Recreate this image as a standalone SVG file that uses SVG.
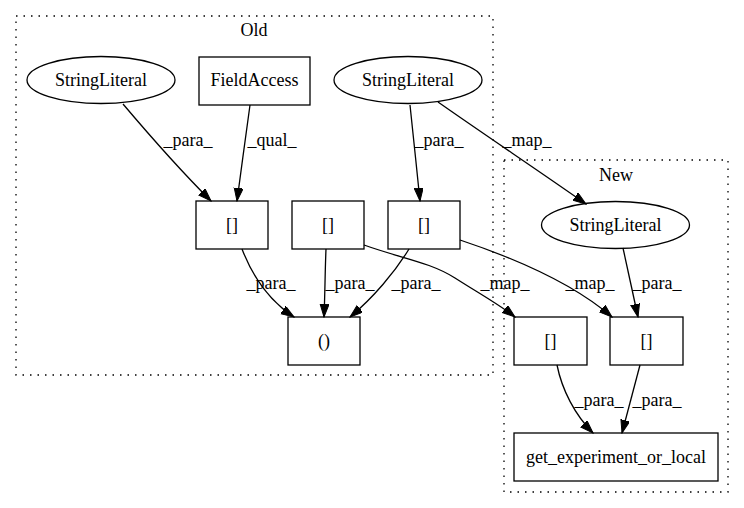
<svg xmlns="http://www.w3.org/2000/svg" width="744" height="508" viewBox="0 0 744 508">
<style>
text{font-family:"Liberation Serif","Times New Roman",serif;font-size:18px;fill:#000}
.n{fill:none;stroke:#000;stroke-width:1.3}
.c{fill:none;stroke:#000;stroke-width:1.3;stroke-dasharray:1.5,6}
.e{fill:none;stroke:#000;stroke-width:1.3;marker-end:url(#a)}
</style>
<defs>
<marker id="a" markerUnits="userSpaceOnUse" markerWidth="14" markerHeight="10" refX="13" refY="4.5" orient="auto">
<path d="M0,0 L13,4.5 L0,9 z" fill="#000" stroke="#000" stroke-width="1"/>
</marker>
</defs>
<rect width="744" height="508" fill="#fff"/>
<g id="cluster_old">
<rect class="c" x="16" y="16" width="477" height="359"/>
<text x="254" y="36" text-anchor="middle">Old</text>
</g>
<g id="cluster_new">
<rect class="c" x="504" y="160" width="224" height="332"/>
<text x="616" y="181" text-anchor="middle">New</text>
</g>
<g id="edges">
<path class="e" d="M123,104 C145,130 182,172 211,201"/>
<text x="188" y="146" text-anchor="middle">_para_</text>
<path class="e" d="M250,105 C246,135 241,170 237,201"/>
<text x="272" y="146" text-anchor="middle">_qual_</text>
<path class="e" d="M410,105 C413,135 417,170 420,201"/>
<text x="439" y="146" text-anchor="middle">_para_</text>
<path class="e" d="M438,102 C485,135 545,175 586,204"/>
<text x="527" y="146" text-anchor="middle">_map_</text>
<path class="e" d="M242,249 C252,275 268,300 294,317"/>
<text x="271" y="289" text-anchor="middle">_para_</text>
<path class="e" d="M326,249 C325,272 325,295 324,317"/>
<text x="350" y="289" text-anchor="middle">_para_</text>
<path class="e" d="M409,249 C395,272 373,298 350,317"/>
<text x="416" y="289" text-anchor="middle">_para_</text>
<path class="e" d="M364,245 C400,258 430,262 455,278 C480,294 500,305 515,317"/>
<text x="505" y="289" text-anchor="middle">_map_</text>
<path class="e" d="M460,240 C520,260 575,285 612,317"/>
<text x="590" y="289" text-anchor="middle">_map_</text>
<path class="e" d="M623,248 C628,270 633,295 638,317"/>
<text x="657" y="289" text-anchor="middle">_para_</text>
<path class="e" d="M557,365 C562,390 575,415 593,433"/>
<text x="599" y="406" text-anchor="middle">_para_</text>
<path class="e" d="M640,365 C634,388 628,410 622,433"/>
<text x="657" y="406" text-anchor="middle">_para_</text>
</g>
<g id="n_sl1"><ellipse class="n" cx="101" cy="80" rx="74" ry="23.5"/><text x="101" y="86" text-anchor="middle">StringLiteral</text></g>
<g id="n_fa"><rect class="n" x="199" y="57" width="111" height="48"/><text x="254.5" y="86" text-anchor="middle">FieldAccess</text></g>
<g id="n_sl2"><ellipse class="n" cx="408" cy="80" rx="74" ry="23.5"/><text x="408" y="86" text-anchor="middle">StringLiteral</text></g>
<g id="n_b1"><rect class="n" x="196" y="201" width="72" height="48"/><text x="232" y="231" text-anchor="middle">[]</text></g>
<g id="n_b2"><rect class="n" x="292" y="201" width="72" height="48"/><text x="328" y="231" text-anchor="middle">[]</text></g>
<g id="n_b3"><rect class="n" x="388" y="201" width="72" height="48"/><text x="424" y="231" text-anchor="middle">[]</text></g>
<g id="n_paren"><rect class="n" x="288" y="317" width="72" height="48"/><text x="324" y="347" text-anchor="middle">()</text></g>
<g id="n_sl3"><ellipse class="n" cx="615.5" cy="225" rx="74" ry="23.5"/><text x="615.5" y="231" text-anchor="middle">StringLiteral</text></g>
<g id="n_na"><rect class="n" x="514" y="317" width="73" height="48"/><text x="550.5" y="347" text-anchor="middle">[]</text></g>
<g id="n_nb"><rect class="n" x="610" y="317" width="73" height="48"/><text x="646.5" y="347" text-anchor="middle">[]</text></g>
<g id="n_get"><rect class="n" x="514" y="433" width="204" height="48"/><text x="616" y="463" text-anchor="middle">get_experiment_or_local</text></g>
</svg>
